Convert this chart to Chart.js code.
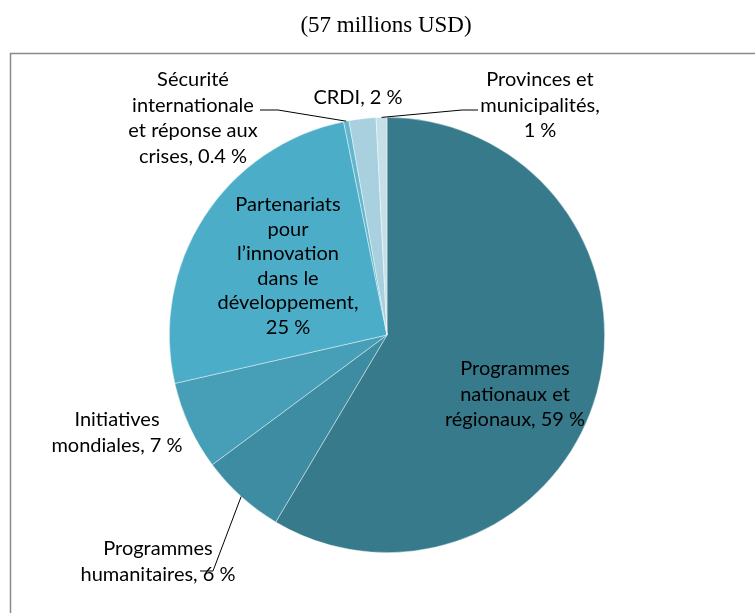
<!DOCTYPE html>
<html>
<head>
<meta charset="utf-8">
<script src="https://cdn.jsdelivr.net/npm/chart.js@4.4.1/dist/chart.umd.min.js"></script>
<style>
  html, body { margin: 0; padding: 0; background: #ffffff; }
  #wrap { width: 755px; height: 613px; position: relative; }
</style>
</head>
<body>
<div id="wrap"><canvas id="pie" width="755" height="613"></canvas></div>
<script>
// data (share of 57 M USD, %)
var categories = [
    'Programmes nationaux et régionaux',
    'Programmes humanitaires',
    'Initiatives mondiales',
    'Partenariats pour l\u2019innovation dans le développement',
    'Sécurité internationale et réponse aux crises',
    'CRDI',
    'Provinces et municipalités'
];
var shares = [58.6, 6.3, 6.6, 25.4, 0.4, 2.0, 0.8];
var sliceColors = ['#367a8b', '#3d8ca2', '#469fb6', '#4badc7', '#63b6cc', '#a8d0de', '#c6e0e8'];

// wrapped label text, {p} is replaced by the percentage
var labelLines = [
    ['Programmes', 'nationaux et', 'régionaux, {p} %'],
    ['Programmes', 'humanitaires, {p} %'],
    ['Initiatives', 'mondiales, {p} %'],
    ['Partenariats', 'pour', 'l\u2019innovation', 'dans le', 'développement,', '{p} %'],
    ['Sécurité', 'internationale', 'et réponse aux', 'crises, {p} %'],
    ['CRDI, {p} %'],
    ['Provinces et', 'municipalités,', '{p} %']
];
var title = '(57 millions USD)';

function pctText(v) {
    // whole percent, unless that would round to zero
    return Math.round(v) >= 1 ? String(Math.round(v)) : v.toFixed(1);
}

// where each label sits (centre x, first line y) and optional leader line points
var labelPlace = [
    { x: 515, y: 369, lh: 25.5 },
    { x: 158, y: 549, lh: 26, leader: [[213, 571], [200, 571]] },
    { x: 117, y: 420, lh: 26 },
    { x: 288, y: 205, lh: 24.5 },
    { x: 193, y: 80, lh: 25.5, leader: [[278, 110], [260, 110]] },
    { x: 358, y: 98, lh: 25 },
    { x: 540, y: 80, lh: 25.5, leader: [[462, 110], [478, 110]] }
];

var framePlugin = {
    id: 'frame',
    beforeDraw: function (chart) {
        var c = chart.ctx;
        c.save();
        c.fillStyle = '#ffffff';
        c.fillRect(0, 0, chart.width, chart.height);
        c.strokeStyle = '#8a8a8a';
        c.lineWidth = 1.5;
        c.strokeRect(10.5, 53.5, 800, 600);
        c.fillStyle = '#000000';
        c.font = '23px "Liberation Serif", "Times New Roman", serif';
        c.textAlign = 'center';
        c.textBaseline = 'middle';
        c.fillText(title, 386, 26);
        c.restore();
    }
};

var labelPlugin = {
    id: 'sliceLabels',
    afterDatasetsDraw: function (chart) {
        var c = chart.ctx;
        var arcs = chart.getDatasetMeta(0).data;
        c.save();
        c.font = '20px Lato, "Open Sans", sans-serif';
        c.fillStyle = '#000000';
        c.textAlign = 'center';
        c.textBaseline = 'middle';
        arcs.forEach(function (arc, i) {
            var p = labelPlace[i];
            if (p.leader) {
                var mid = (arc.startAngle + arc.endAngle) / 2;
                var ax = arc.x + Math.cos(mid) * arc.outerRadius;
                var ay = arc.y + Math.sin(mid) * arc.outerRadius;
                c.strokeStyle = '#000000';
                c.lineWidth = 1;
                c.beginPath();
                c.moveTo(ax, ay);
                p.leader.forEach(function (pt) { c.lineTo(pt[0], pt[1]); });
                c.stroke();
            }
            labelLines[i].forEach(function (line, k) {
                c.fillText(line.replace('{p}', pctText(shares[i])), p.x, p.y + k * p.lh);
            });
        });
        c.restore();
    }
};

new Chart(document.getElementById('pie'), {
    type: 'pie',
    data: {
        labels: categories,
        datasets: [{
            data: shares,
            backgroundColor: sliceColors,
            borderColor: 'rgba(255,255,255,0.6)',
            borderWidth: 0.7
        }]
    },
    options: {
        responsive: false,
        animation: false,
        layout: {
            padding: { left: 169, right: 150, top: 117, bottom: 60 }
        },
        plugins: {
            legend: { display: false },
            tooltip: { enabled: false }
        }
    },
    plugins: [framePlugin, labelPlugin]
});
</script>
</body>
</html>
